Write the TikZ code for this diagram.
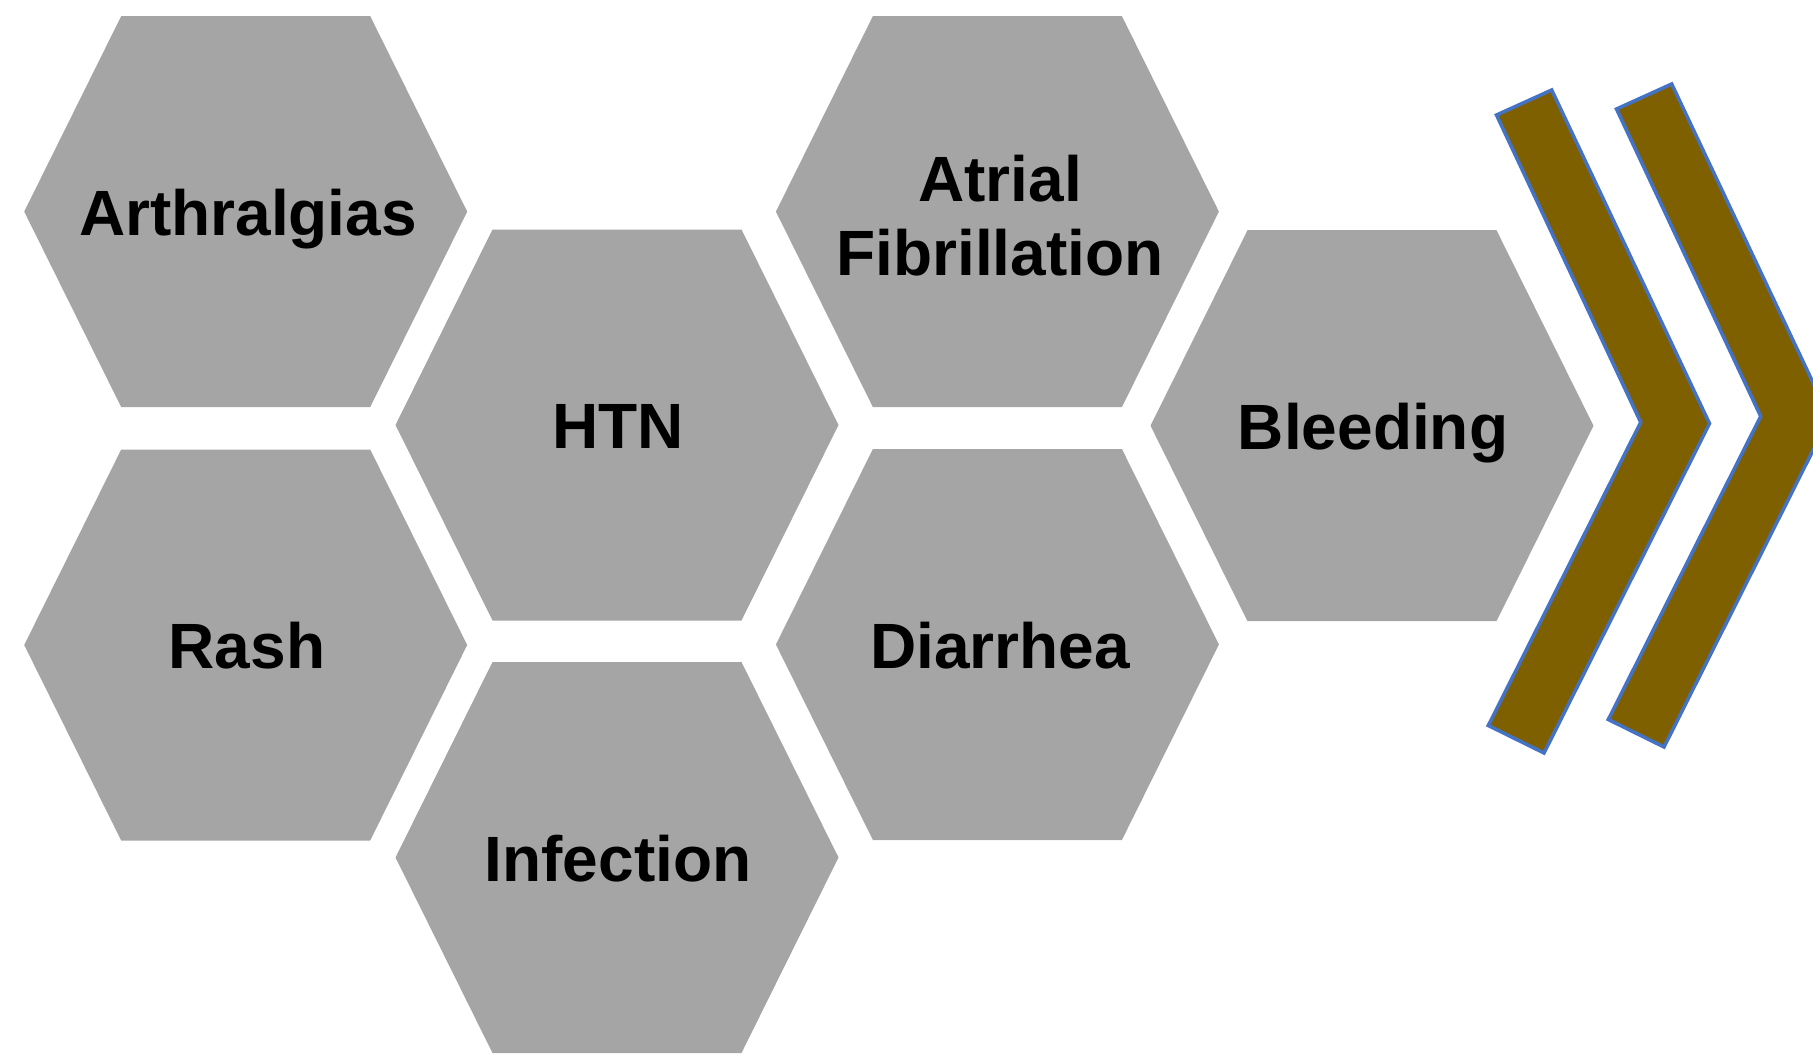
\documentclass[tikz,border=0pt]{standalone}
\usepackage{fontspec}
\setmainfont{Liberation Sans}
\definecolor{hexgray}{HTML}{A5A5A5}
\definecolor{chevfill}{HTML}{7F6000}
\definecolor{chevline}{HTML}{4472C4}
\tikzset{
  hexfill/.style={fill=hexgray},
  lbl/.style={font=\bfseries\fontsize{64}{74}\selectfont, text=black, inner sep=0pt, align=center},
  chevron/.style={fill=chevfill, draw=chevline, line width=3.5pt, line join=miter}
}
\newcommand\hexcell[2]{%
  \begin{scope}[shift={(#1,#2)}]
    \fill[hexfill] (-221.5,0) -- (-124.5,-195.5) -- (124.5,-195.5) -- (221.5,0) -- (124.5,195.5) -- (-124.5,195.5) -- cycle;
  \end{scope}}
\begin{document}
\begin{tikzpicture}[x=1pt,y=-1pt]
\useasboundingbox (0,0) rectangle (1813,1053);
\clip (0,0) rectangle (1813,1053);
% hexagons
\hexcell{245.7}{211.6}
\hexcell{245.7}{645}
\hexcell{617}{425}
\hexcell{617}{857.5}
\hexcell{997.4}{211.6}
\hexcell{997.4}{644.5}
\hexcell{1372}{425.7}
% labels
\node[lbl, anchor=base] (arth) at (248,235) {Arthralgias};
\node[lbl, anchor=base] (rash) at (247,668.5) {Rash};
\node[lbl, anchor=base] (htn)  at (618,448.5) {HTN};
\node[lbl, anchor=base] (inf)  at (618,881.5) {Infection};
\node[lbl] (afib) at (1000,216) {Atrial\\Fibrillation};
\node[lbl, anchor=base] (diar) at (1000,668.5) {Diarrhea};
\node[lbl, anchor=base] (bleed) at (1373,449) {Bleeding};
% chevrons
\coordinate (c1tl) at (1496.5,115);
\coordinate (c1t) at (1551.7,90);
\coordinate (c1tip) at (1709.5,423.5);
\coordinate (c1b) at (1544,753);
\coordinate (c1bl) at (1488.3,725.5);
\coordinate (c1n) at (1640.7,422.3);
\draw[chevron] (c1tl) -- (c1t) -- (c1tip) -- (c1b) -- (c1bl) -- (c1n) -- cycle;
\coordinate (c2tl) at (1616.5,109);
\coordinate (c2t) at (1671.7,84);
\coordinate (c2tip) at (1829.5,417.5);
\coordinate (c2b) at (1664,747);
\coordinate (c2bl) at (1608.3,719.5);
\coordinate (c2n) at (1760.7,416.3);
\draw[chevron] (c2tl) -- (c2t) -- (c2tip) -- (c2b) -- (c2bl) -- (c2n) -- cycle;
\end{tikzpicture}
\end{document}
